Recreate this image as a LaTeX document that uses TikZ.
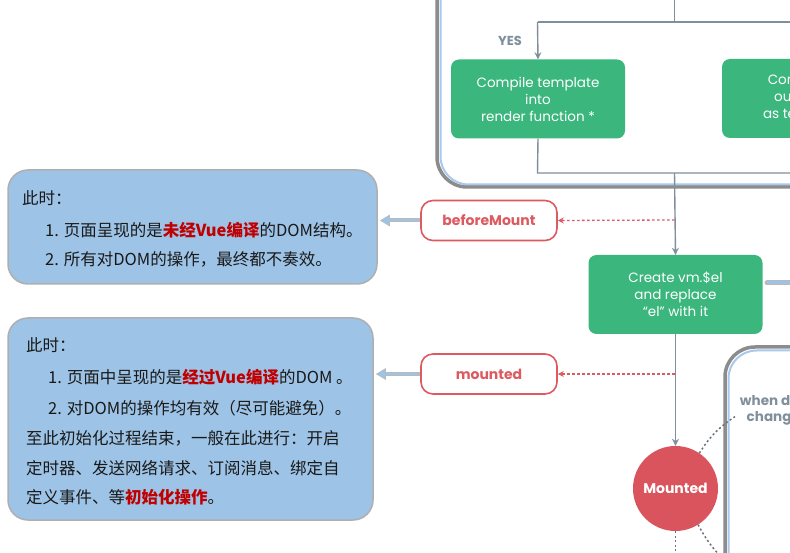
\documentclass[tikz,border=0pt]{standalone}
\usepackage{fontspec}
\setmainfont{Poppins}
\newfontfamily\cjk{Noto Sans CJK SC}
\usetikzlibrary{arrows.meta}
\definecolor{vgreen}{HTML}{3BB77E}
\definecolor{lgray}{HTML}{7F8F9C}
\definecolor{vred}{HTML}{DC5A60}
\definecolor{cred}{HTML}{D9545C}
\definecolor{cblue}{HTML}{9DC3E6}
\definecolor{dred}{HTML}{C00000}
\definecolor{cframe}{HTML}{A8C8EC}
\definecolor{shadowgray}{HTML}{8C8C8C}
\tikzset{
  greenbox/.style={rectangle, rounded corners=8pt, fill=vgreen, text=white, align=center,
    minimum width=174pt, minimum height=79pt, inner sep=0pt, font=\fontsize{13.5}{17}\selectfont},
  hookbox/.style={rectangle, rounded corners=12pt, draw=vred, line width=1.6pt, fill=white,
    text=vred, minimum width=136pt, minimum height=40pt, inner sep=0pt,
    font=\fontsize{14}{17}\selectfont\bfseries},
  callout/.style={rectangle, rounded corners=20pt, fill=cblue, draw=shadowgray!70, line width=1.5pt, inner sep=0pt},
  ctext/.style={anchor=west, inner sep=0pt, text=black!90, font=\cjk\fontsize{16.5}{20}\selectfont},
  flow/.style={draw=lgray, line width=1.4pt},
  flowarrow/.style={flow, -{Stealth[length=7pt,width=7pt]}},
  hookline/.style={draw=vred, line width=1.3pt, dash pattern=on 2.5pt off 2.5pt, -{Stealth[length=6pt,width=6pt]}},
  dotline/.style={draw=lgray!80!black, line width=1.5pt, dash pattern=on 2pt off 2.5pt},
  frameouter/.style={draw=shadowgray, line width=3.5pt, rounded corners=30pt},
  frameinner/.style={draw=cframe, line width=2pt, rounded corners=28pt},
}
\newcommand{\hl}[1]{{\bfseries\color{dred}#1}}
\begin{document}
\begin{tikzpicture}[x=1pt,y=-1pt]
\useasboundingbox (0,0) rectangle (790,553);
\clip (0,0) rectangle (790,553);
\fill[white] (0,0) rectangle (790,553);

% top container
\draw[frameouter] (437,-60) rectangle (950,187);
\draw[frameinner] (440.5,-60) rectangle (950,184.5);

% second container
\draw[frameouter] (725,347) rectangle (950,700);
\draw[frameinner] (728.5,350.5) rectangle (950,700);

% coordinates
\coordinate (top) at (674.5,-5);
\coordinate (j1) at (674.5,22);
\coordinate (j2) at (537.5,22);
\coordinate (jr) at (800,22);
\coordinate (j3) at (537.5,173);
\coordinate (j4) at (674.5,173);
\coordinate (j5) at (800,173);
\coordinate (bmtap) at (674.5,220);
\coordinate (mttap) at (674.5,374);

% green boxes
\node[greenbox] (cta) at (538,99) {Compile template\\into\\render function *};
\node[greenbox] (cel) at (809,98.5) {Compile el's\\outerHTML\\as template *};
\node[greenbox] (cvm) at (675.5,294.5) {Create vm.\$el\\and replace\\“el” with it};

% flow lines
\draw[flow] (top) -- (j1);
\draw[flow] (jr) -- (j2);
\draw[flowarrow] (j2) -- (cta.north);
\draw[flow] (cta.south) -- (j3) -- (j5);
\draw[flow] (cel.south) -- (cel.south |- j5);
\draw[flowarrow] (j4) -- (cvm.north);

\node[text=lgray, font=\fontsize{13}{15}\selectfont\bfseries] (yes) at (510,41) {YES};

% hooks
\node[hookbox] (bm) at (489,220.5) {beforeMount};
\node[hookbox] (mt) at (489,374) {mounted};
\draw[hookline] (bmtap) -- (bm.east);
\draw[hookline] (mttap) -- (mt.east);

% Mounted circle
\node[circle, fill=cred, minimum size=85pt, inner sep=0pt, text=white,
  font=\fontsize{14}{17}\selectfont\bfseries] (mc) at (675.5,488.5) {Mounted};
\draw[flowarrow] (cvm.south) -- (mc.north);

% when data changes
\node[text=lgray, align=center, font=\fontsize{13.5}{16}\selectfont\bfseries] (wdc) at (777,410) {when data\\changes};
\coordinate (wd1) at (736,416);
\coordinate (wd2) at (724,560);
\coordinate (wd3) at (675.5,560);
\draw[dotline] (mc.56) to[bend left=12] (wd1);
\draw[dotline] (mc.-58) to[bend right=8] (wd2);
\draw[dotline] (mc.south) -- (wd3);

% right stub from create box
\coordinate (st1) at (767,283);
\coordinate (st2) at (800,283);
\draw[draw=shadowgray!60, line width=5pt, line cap=round] (st1) -- (st2);
\draw[draw=cblue, line width=3pt, line cap=round] (st1) -- (st2);

% callouts
\node[callout, minimum width=369pt, minimum height=114pt] (cb1) at (192.5,227) {};
\node[callout, minimum width=365pt, minimum height=202pt] (cb2) at (190.5,419) {};

\node[ctext] (a1) at (22,198) {此时：};
\node[ctext] (a2) at (45,230) {1. 页面呈现的是\hl{未经Vue编译}的DOM结构。};
\node[ctext] (a3) at (45,259) {2. 所有对DOM的操作，最终都不奏效。};

\node[ctext] (b1) at (26,345) {此时：};
\node[ctext] (b2) at (48,377) {1. 页面中呈现的是\hl{经过Vue编译}的DOM 。};
\node[ctext] (b3) at (48,408) {2. 对DOM的操作均有效（尽可能避免）。};
\node[ctext] (b4) at (26,438) {至此初始化过程结束，一般在此进行：开启};
\node[ctext] (b5) at (26,468) {定时器、发送网络请求、订阅消息、绑定自};
\node[ctext] (b6) at (26,497) {定义事件、等\hl{初始化操作}。};

% blue arrows from hooks to callouts
\draw[draw=shadowgray!60, line width=4pt, -{Triangle[length=10pt,width=11pt]}] (bm.west) -- ([xshift=2pt]cb1.east |- bm.west);
\draw[draw=cblue, line width=2pt, -{Triangle[length=8pt,width=8pt]}] ([xshift=-1pt]bm.west) -- ([xshift=3.5pt]cb1.east |- bm.west);
\draw[draw=shadowgray!60, line width=4pt, -{Triangle[length=10pt,width=11pt]}] (mt.west) -- ([xshift=2pt]cb2.east |- mt.west);
\draw[draw=cblue, line width=2pt, -{Triangle[length=8pt,width=8pt]}] ([xshift=-1pt]mt.west) -- ([xshift=3.5pt]cb2.east |- mt.west);
\end{tikzpicture}
\end{document}
